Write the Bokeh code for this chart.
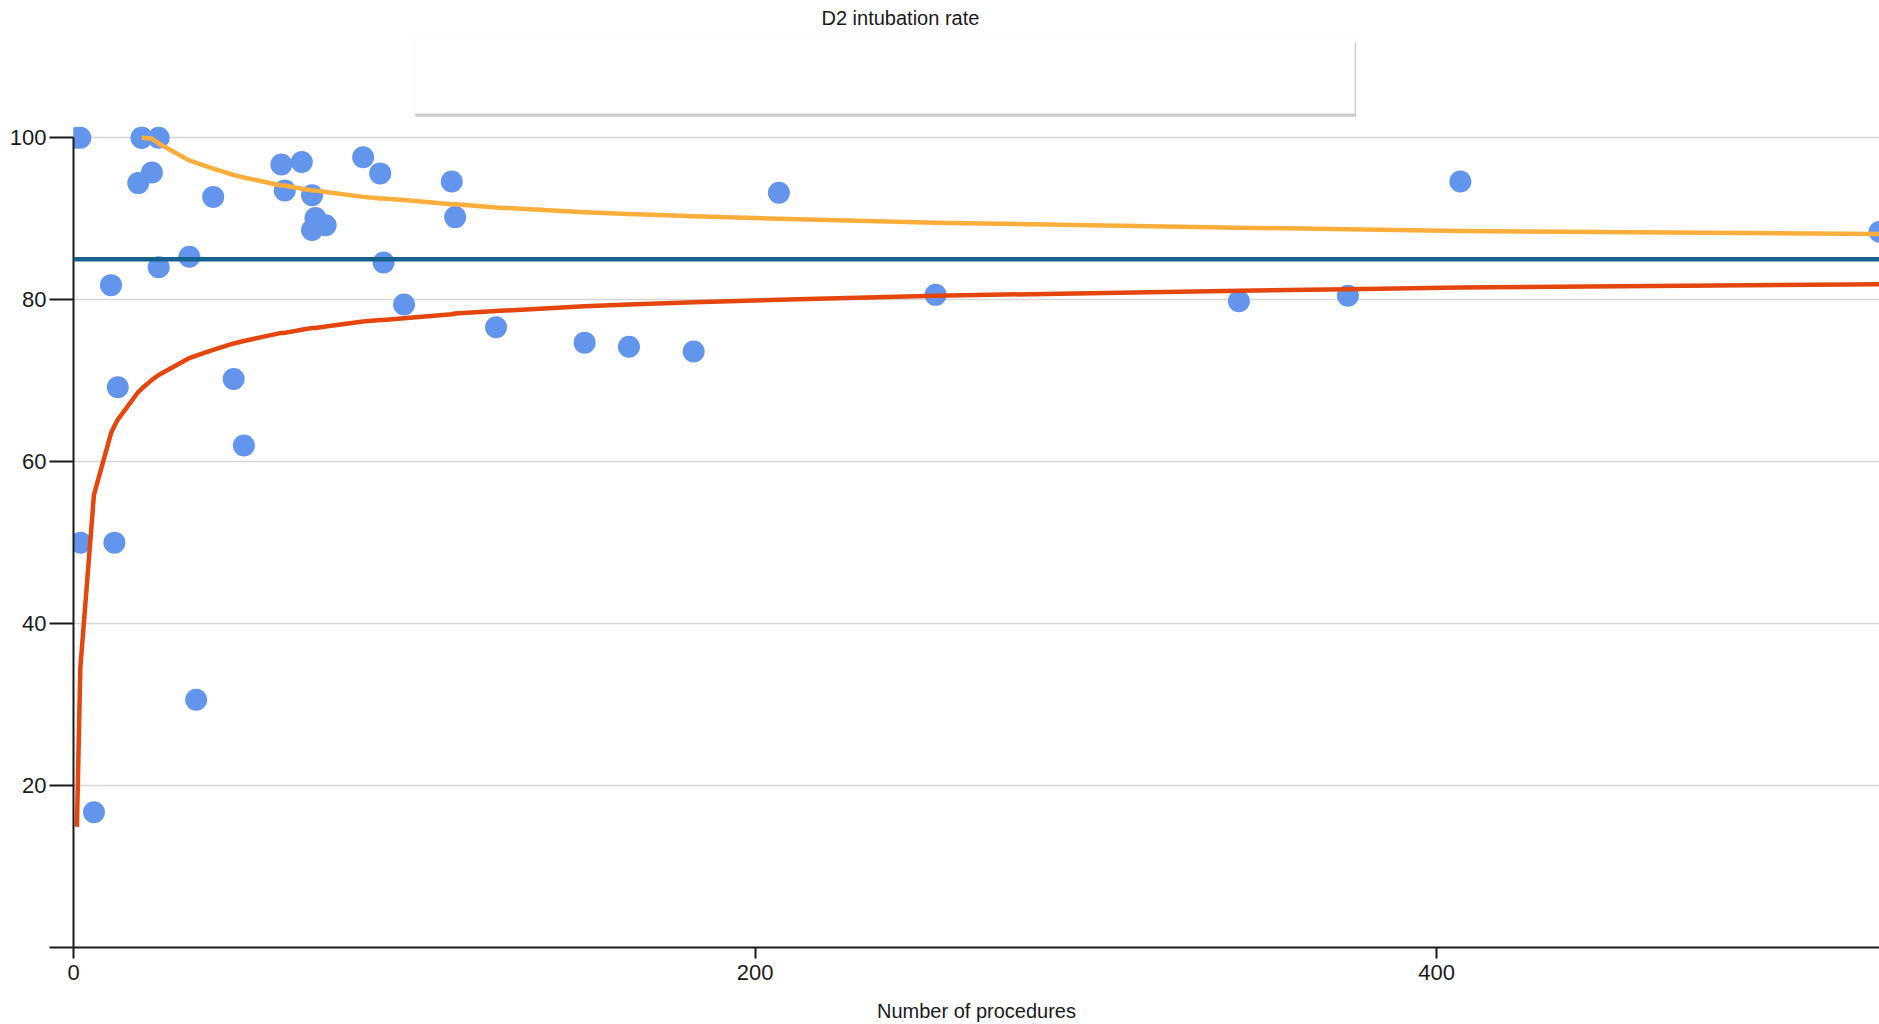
from bokeh.plotting import figure
from bokeh.models import Range1d, FixedTicker, Span, BoxAnnotation, ColumnDataSource
from bokeh.embed import file_html
from bokeh.resources import INLINE

# ---- data ----
procedures = [1, 2, 2, 6, 11, 12, 13, 19, 20, 20, 23, 25, 25, 34, 36, 41, 47, 50,
              61, 62, 67, 70, 71, 70, 74, 85, 90, 91, 97, 111, 112, 124, 150, 163,
              182, 207, 253, 342, 374, 407, 530]
d2_rate = [100, 100, 50, 16.7, 81.8, 50, 69.2, 94.4, 100, 100, 95.7, 100, 84.0, 85.3,
           30.6, 92.7, 70.2, 62.0, 96.7, 93.5, 97.0, 92.9, 90.1, 88.6, 89.2, 97.6,
           95.6, 84.6, 79.4, 94.6, 90.2, 76.6, 74.7, 74.2, 73.6, 93.2, 80.6, 79.8,
           80.5, 94.6, 88.4]

mean_rate = 85.0

lower_n = [1, 2, 6, 11, 12, 13, 19, 20, 23, 25, 34, 36, 41, 47, 50, 61, 62, 67, 70,
           71, 74, 85, 90, 91, 97, 111, 112, 124, 150, 163, 182, 207, 253, 342, 374,
           407, 530]
lower_limit = [14.9, 34.5, 55.9, 63.5, 64.4, 65.2, 68.6, 69.0, 70.1, 70.7, 72.8, 73.1,
               73.8, 74.6, 74.9, 75.9, 75.9, 76.3, 76.5, 76.5, 76.7, 77.3, 77.5, 77.5,
               77.7, 78.2, 78.3, 78.6, 79.2, 79.4, 79.7, 80.0, 80.5, 81.1, 81.3, 81.5,
               81.9]

upper_n = [20, 23, 25, 34, 36, 41, 47, 50, 61, 62, 67, 70, 71, 74, 85, 90, 91, 97, 111,
           112, 124, 150, 163, 182, 207, 253, 342, 374, 407, 530]
upper_limit = [100, 99.9, 99.3, 97.2, 96.9, 96.2, 95.4, 95.1, 94.1, 94.1, 93.7, 93.5,
               93.5, 93.3, 92.7, 92.5, 92.5, 92.3, 91.8, 91.8, 91.4, 90.8, 90.6, 90.3,
               90.0, 89.5, 88.9, 88.7, 88.5, 88.1]

y_ticks = [0, 20, 40, 60, 80, 100]
x_ticks = [0, 200, 400]

title_text = "D2 intubation rate"
x_title = "Number of procedures"

FONT = "Liberation Sans"

p = figure(width=1879, height=1024, output_backend="svg", toolbar_location=None,
           x_range=Range1d(0, 530), y_range=Range1d(0, 113.0),
           min_border_left=73, min_border_right=0, min_border_bottom=77,
           min_border_top=0)
p.outline_line_color = None
p.background_fill_color = "white"
p.border_fill_color = "white"

# title
p.title.text = title_text
p.title.text_font = FONT
p.title.text_font_size = "20px"
p.title.text_font_style = "normal"
p.title.text_color = "#1a1a1a"
p.title.align = "left"
p.title.offset = 748
p.title.standoff = 8

# grids
p.xgrid.visible = False
p.ygrid.ticker = FixedTicker(ticks=y_ticks[1:])
p.ygrid.grid_line_color = "#d6d6d6"
p.ygrid.grid_line_width = 1.6

# y axis
ya = p.yaxis[0]
ya.ticker = FixedTicker(ticks=y_ticks)
ya.major_label_overrides = {0: ""}
ya.bounds = (0, 100)
ya.axis_line_color = "#1a1a1a"
ya.axis_line_width = 2
ya.major_tick_line_color = "#1a1a1a"
ya.major_tick_line_width = 2
ya.major_tick_out = 24
ya.major_tick_in = 0
ya.minor_tick_line_color = None
ya.major_label_standoff = 3
ya.major_label_text_font = FONT
ya.major_label_text_font_size = "22px"
ya.major_label_text_color = "#1a1a1a"

# x axis
xa = p.xaxis[0]
xa.ticker = FixedTicker(ticks=x_ticks)
xa.axis_line_color = "#1a1a1a"
xa.axis_line_width = 2
xa.major_tick_line_color = "#1a1a1a"
xa.major_tick_line_width = 2
xa.major_tick_out = 11
xa.major_tick_in = 0
xa.minor_tick_line_color = None
xa.major_label_standoff = 6
xa.major_label_text_font = FONT
xa.major_label_text_font_size = "22px"
xa.major_label_text_color = "#1a1a1a"
xa.axis_label = x_title
xa.axis_label_text_font = FONT
xa.axis_label_text_font_size = "20px"
xa.axis_label_text_font_style = "normal"
xa.axis_label_text_color = "#1a1a1a"
xa.axis_label_standoff = 17

# empty legend box with shadow
shadow = BoxAnnotation(left=100.3, right=376.4, bottom=102.6, top=111.8,
                       fill_color="#9a9a9a", fill_alpha=0.5, line_color=None)
legend_box = BoxAnnotation(left=100, right=376, bottom=103.0, top=112.2,
                           fill_color="white", fill_alpha=1.0,
                           line_color="#ececec", line_width=1)
p.add_layout(shadow)
p.add_layout(legend_box)

# points
src = ColumnDataSource(dict(n=procedures, rate=d2_rate))
p.scatter("n", "rate", source=src, size=22, fill_color="#6495ed",
          line_color="#6495ed", line_width=0)

# control limits
p.line(lower_n, lower_limit, line_color="#e4460e", line_width=4.5, line_join="round")
p.line(upper_n, upper_limit, line_color="#fbae3c", line_width=4.5, line_join="round")

# mean
p.add_layout(Span(location=mean_rate, dimension="width", line_color="#16628f",
                  line_width=4.5))

open("out.html", "w").write(file_html(p, INLINE))
